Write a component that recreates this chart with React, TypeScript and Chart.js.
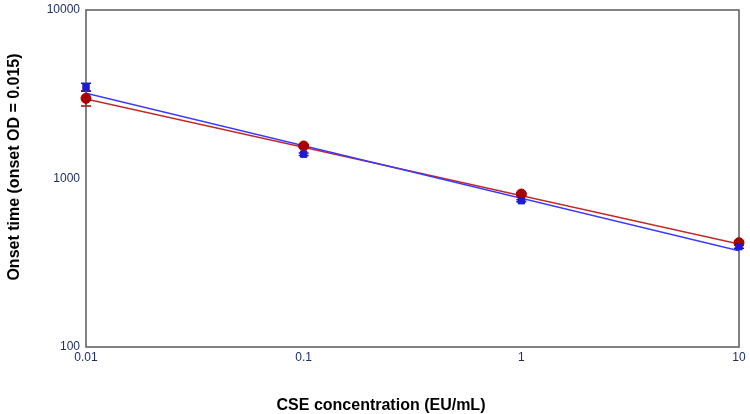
import React, { useEffect, useRef } from "react";
import { Chart, registerables } from "chart.js";

Chart.register(...registerables);

// CSE concentration (EU/mL)
const concentrations = [0.01, 0.1, 1, 10];

// measured onset times
const blueOnset = [3490, 1394, 738, 394];
const blueError = [180, 25, 10, 8];
const redOnset = [2990, 1560, 809, 416];
const redError = [300, 20, 10, 8];

// fitted lines, read at the ends of the axis
const fitX = [0.01, 10];
const blueFit = [3205, 373];
const redFit = [2965, 408];

const xTicks = [0.01, 0.1, 1, 10];
const yTicks = [100, 1000, 10000];

const BLUE = "#1a1ad0";
const BLUE_LINE = "#3a3aff";
const RED = "#a80000";
const RED_LINE = "#c02828";

const App: React.FC = () => {
  const canvasRef = useRef<HTMLCanvasElement | null>(null);
  const chartRef = useRef<Chart | null>(null);

  useEffect(() => {
    document.body.style.margin = "0";
    if (!canvasRef.current) return;
    const ctx = canvasRef.current.getContext("2d");
    if (!ctx) return;

    const errorBars = {
      id: "errorBars",
      beforeDatasetsDraw: (chart: Chart) => {
        const c = chart.ctx;
        const xs = chart.scales.x;
        const ys = chart.scales.y;
        const sets = [
          { vals: blueOnset, err: blueError, color: BLUE },
          { vals: redOnset, err: redError, color: RED },
        ];
        c.save();
        sets.forEach((s) => {
          c.strokeStyle = s.color;
          c.lineWidth = 1.5;
          s.vals.forEach((v, i) => {
            const px = xs.getPixelForValue(concentrations[i]);
            const top = ys.getPixelForValue(v + s.err[i]);
            const bot = ys.getPixelForValue(v - s.err[i]);
            c.beginPath();
            c.moveTo(px, top);
            c.lineTo(px, bot);
            c.moveTo(px - 5, top);
            c.lineTo(px + 5, top);
            c.moveTo(px - 5, bot);
            c.lineTo(px + 5, bot);
            c.stroke();
          });
        });
        c.restore();
      },
    };

    const frameAndTitles = {
      id: "frameAndTitles",
      beforeDatasetsDraw: (chart: Chart) => {
        const c = chart.ctx;
        const a = chart.chartArea;
        c.save();
        c.strokeStyle = "#5a5a5a";
        c.lineWidth = 1.5;
        c.strokeRect(a.left, a.top, a.right - a.left, a.bottom - a.top);
        c.restore();
      },
      afterDraw: (chart: Chart) => {
        const c = chart.ctx;
        c.save();
        c.fillStyle = "#000";
        c.font = "bold 16px 'Liberation Sans', Arial, sans-serif";
        c.textAlign = "center";
        c.textBaseline = "middle";
        c.fillText("CSE concentration (EU/mL)", 381, 406);
        c.translate(15, 167);
        c.rotate(-Math.PI / 2);
        c.fillText("Onset time (onset OD = 0.015)", 0, 0);
        c.restore();
      },
    };

    const tickFont = { family: "'Liberation Sans', Arial, sans-serif", size: 12 };

    chartRef.current = new Chart(ctx, {
      type: "scatter",
      data: {
        datasets: [
          {
            label: "blue",
            data: concentrations.map((x, i) => ({ x, y: blueOnset[i] })),
            backgroundColor: BLUE,
            borderColor: BLUE,
            pointStyle: "rect",
            pointRadius: 4.5,
            clip: false,
            order: 0,
          },
          {
            label: "red",
            data: concentrations.map((x, i) => ({ x, y: redOnset[i] })),
            backgroundColor: RED,
            borderColor: RED,
            pointStyle: "circle",
            pointRadius: 5,
            clip: false,
            order: 0,
          },
          {
            label: "blue fit",
            data: fitX.map((x, i) => ({ x, y: blueFit[i] })),
            showLine: true,
            borderColor: BLUE_LINE,
            borderWidth: 1.5,
            pointRadius: 0,
            order: 1,
          },
          {
            label: "red fit",
            data: fitX.map((x, i) => ({ x, y: redFit[i] })),
            showLine: true,
            borderColor: RED_LINE,
            borderWidth: 1.5,
            pointRadius: 0,
            order: 1,
          },
        ],
      },
      options: {
        responsive: false,
        animation: false,
        layout: { padding: { top: 10, right: 11, left: 0, bottom: 0 } },
        plugins: {
          legend: { display: false },
          tooltip: { enabled: false },
        },
        scales: {
          x: {
            type: "logarithmic",
            min: 0.01,
            max: 10,
            grid: { display: false, drawTicks: false },
            border: { display: false },
            afterBuildTicks: (scale: any) => {
              scale.ticks = xTicks.map((v) => ({ value: v }));
            },
            afterFit: (scale: any) => {
              scale.height = 67;
              scale.paddingLeft = 0;
              scale.paddingRight = 0;
            },
            ticks: {
              color: "#1f2f66",
              font: tickFont,
              padding: 3,
              maxRotation: 0,
              autoSkip: false,
              callback: (v: any) => String(v),
            },
          },
          y: {
            type: "logarithmic",
            min: 100,
            max: 10000,
            grid: { display: false, drawTicks: false },
            border: { display: false },
            afterBuildTicks: (scale: any) => {
              scale.ticks = yTicks.map((v) => ({ value: v }));
            },
            afterFit: (scale: any) => {
              scale.width = 86;
              scale.paddingTop = 0;
              scale.paddingBottom = 0;
            },
            ticks: {
              color: "#1f2f66",
              font: tickFont,
              padding: 6,
              autoSkip: false,
              callback: (v: any) => String(v),
            },
          },
        },
      },
      plugins: [errorBars, frameAndTitles],
    });

    return () => {
      if (chartRef.current) {
        chartRef.current.destroy();
        chartRef.current = null;
      }
    };
  }, []);

  return (
    <div style={{ width: 750, height: 414, background: "#fff" }}>
      <canvas ref={canvasRef} width={750} height={414}></canvas>
    </div>
  );
};

export default App;
